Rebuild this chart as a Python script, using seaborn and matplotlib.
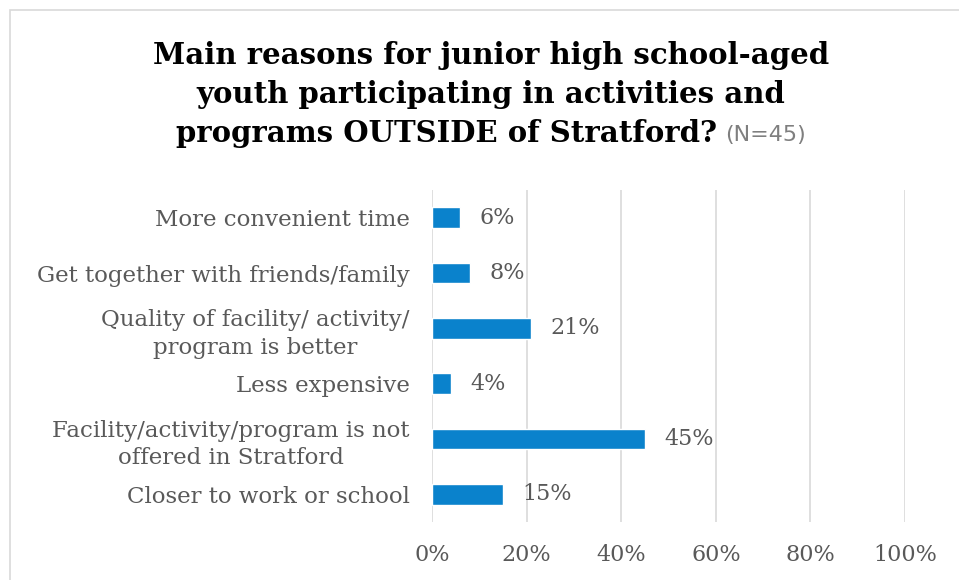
import matplotlib
matplotlib.use("Agg")
import matplotlib.pyplot as plt
import seaborn as sns
import pandas as pd

categories = [
    "More convenient time",
    "Get together with friends/family",
    "Quality of facility/ activity/\nprogram is better",
    "Less expensive",
    "Facility/activity/program is not\noffered in Stratford",
    "Closer to work or school",
]
percentages = [6, 8, 21, 4, 45, 15]
x_ticks = [0, 20, 40, 60, 80, 100]
x_tick_labels = ["0%", "20%", "40%", "60%", "80%", "100%"]

title_lines = [
    "Main reasons for junior high school-aged",
    "youth participating in activities and",
    "programs OUTSIDE of Stratford?",
]
title_note = "(N=45)"

BAR = "#0A82CC"
TEXT = "#595959"
GRID = "#D9D9D9"
SERIF = ["DejaVu Serif"]

sns.set_theme(style="white")
plt.rcParams["font.family"] = SERIF

df = pd.DataFrame({"reason": categories, "pct": percentages})

fig = plt.figure(figsize=(9.59, 5.8), dpi=100)
ax = fig.add_axes([0.4505, 0.10, 0.4932, 0.5724])

sns.barplot(data=df, x="pct", y="reason", color=BAR, width=0.37,
            saturation=1, ax=ax, orient="h")

ax.set_xlim(0, 100)
ax.set_xticks(x_ticks)
ax.set_xticklabels(x_tick_labels)
ax.set_xlabel("")
ax.set_ylabel("")
for s in ax.spines.values():
    s.set_visible(False)
ax.grid(axis="x", color=GRID, linewidth=1.2)
ax.grid(axis="y", visible=False)
ax.set_axisbelow(True)
ax.tick_params(axis="x", length=0, pad=16, labelsize=16, labelcolor=TEXT)
ax.tick_params(axis="y", length=0, pad=16, labelsize=16.5, labelcolor=TEXT)
for lbl in ax.get_yticklabels():
    lbl.set_multialignment("center")
    lbl.set_linespacing(1.35)

# value labels at the end of each bar
for i, v in enumerate(percentages):
    ax.annotate(f"{v}%", xy=(v, i), xytext=(14, 0), textcoords="offset points",
                ha="left", va="center", fontsize=16, color=TEXT)

# chart frame
fig.patches.append(plt.Rectangle((10 / 959, -0.05), 1.0, 1 - 10 / 580 + 0.05,
                                 transform=fig.transFigure, fill=False,
                                 edgecolor="#D9D9D9", linewidth=1.2))

# title: three bold lines, the last followed by a grey note
title_kw = dict(fontsize=21, fontweight="bold", color="black", family=SERIF)
ys = [1 - 56 / 580, 1 - 95 / 580, 1 - 134 / 580]
cx = 491 / 959
for line, y in zip(title_lines[:2], ys[:2]):
    fig.text(cx, y, line, ha="center", va="center", **title_kw)

last = fig.text(cx, ys[2], title_lines[2], ha="left", va="center", **title_kw)
note = fig.text(cx, ys[2], title_note, ha="left", va="center", fontsize=16,
                color="#7F7F7F",
                family=["Liberation Sans Narrow", "DejaVu Sans"])
fig.canvas.draw()
r = fig.canvas.get_renderer()
w1 = last.get_window_extent(r).width
w2 = note.get_window_extent(r).width
gap = 8
total = w1 + gap + w2
start = cx * fig.bbox.width - total / 2
last.set_x(start / fig.bbox.width)
note.set_x((start + w1 + gap) / fig.bbox.width)
note.set_y(ys[2] - 1 / 580)

fig.savefig("out.png", dpi=100)
